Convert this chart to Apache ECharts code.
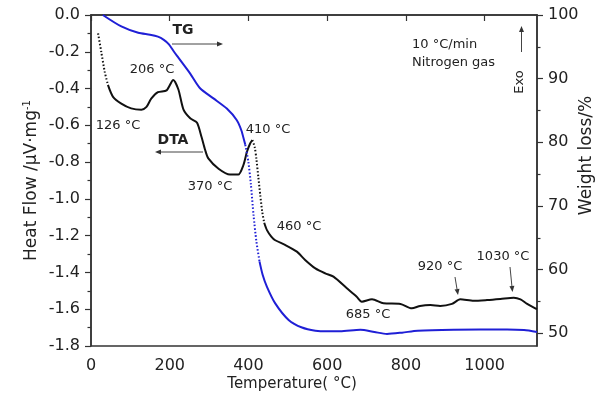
<!DOCTYPE html>
<html>
<head>
<meta charset="utf-8">
<script src="https://cdn.jsdelivr.net/npm/echarts@6/dist/echarts.min.js"></script>
<style>
  html, body { margin: 0; padding: 0; background: #fff; }
  #chart { width: 602px; height: 398px; }
</style>
</head>
<body>
<div id="chart"></div>
<script>
// DTA heat flow (left axis), [temperature °C, µV/mg]
const dtaData = [
  [18, -0.10], [26, -0.20], [35, -0.31], [43, -0.38], [56, -0.445], [77, -0.482],
  [102, -0.508], [128, -0.515], [141, -0.50], [153, -0.455], [170, -0.42],
  [192, -0.41], [209, -0.353], [222, -0.405], [235, -0.515], [252, -0.562],
  [269, -0.585], [281, -0.665], [290, -0.734], [298, -0.78], [324, -0.836],
  [353, -0.868], [374, -0.868], [387, -0.817], [396, -0.745], [404, -0.70],
  [410, -0.68], [416, -0.72], [420, -0.78], [425, -0.88], [430, -0.98],
  [435, -1.07], [440, -1.13], [447, -1.17], [458, -1.205], [468, -1.225],
  [493, -1.25], [523, -1.287], [544, -1.332], [570, -1.378], [595, -1.405],
  [616, -1.423], [650, -1.486], [675, -1.532], [688, -1.559], [714, -1.546],
  [743, -1.568], [786, -1.571], [815, -1.595], [836, -1.582], [862, -1.577],
  [887, -1.582], [917, -1.571], [938, -1.546], [972, -1.554], [1006, -1.55],
  [1040, -1.544], [1074, -1.537], [1091, -1.546], [1108, -1.571], [1133, -1.60]
];

// TG weight (right axis), [temperature °C, %]
const tgData = [
  [30, 100], [77, 98.2], [120, 97.2], [150, 96.9], [170, 96.6], [185, 96.1],
  [198, 95.4], [210, 94.3], [222, 93.3], [252, 90.8], [277, 88.5], [311, 86.9],
  [345, 85.3], [370, 83.5], [383, 81.7], [392, 79.6], [400, 76.8], [406, 73.5],
  [413, 68.5], [420, 64.5], [428, 61.3], [436, 59.2], [447, 57.3], [468, 54.7],
  [502, 52.1], [536, 50.9], [570, 50.4], [600, 50.3], [633, 50.3], [684, 50.55],
  [720, 50.2], [752, 49.9], [790, 50.1], [830, 50.4], [921, 50.55], [1057, 50.6],
  [1100, 50.5], [1133, 50.2]
];

// temperature ranges where the instrument sampled sparsely (drawn dotted)
const dtaDotted = [[18, 43], [410, 440]];
const tgDotted = [[392, 428]];

const tempTicks = [0, 200, 400, 600, 800, 1000];
const weightTicks = [50, 60, 70, 80, 90, 100];
const weightMinorTicks = [55, 65, 75, 85, 95];

const FONT = '"DejaVu Sans", sans-serif';
const AXIS_COLOR = "#333";
const TEXT_COLOR = "#222";
const DTA_COLOR = "#111";
const TG_COLOR = "#1f1fd6";

const chart = echarts.init(document.getElementById("chart"));

// split a curve into solid / dotted pieces (pieces share their end points)
function pieces(data, dotted) {
  const out = [];
  let start = data[0][0];
  dotted.forEach(([lo, hi]) => {
    if (lo > start) out.push({ dotted: false, data: data.filter((p) => p[0] >= start && p[0] <= lo) });
    out.push({ dotted: true, data: data.filter((p) => p[0] >= lo && p[0] <= hi) });
    start = hi;
  });
  out.push({ dotted: false, data: data.filter((p) => p[0] >= start) });
  return out;
}

function curveSeries(name, data, dotted, yAxisIndex, color) {
  return pieces(data, dotted).map((piece) => ({
    name,
    type: "line",
    yAxisIndex,
    data: piece.data,
    smooth: 0.25,
    showSymbol: false,
    lineStyle: {
      color,
      width: 2,
      type: piece.dotted ? [1.5, 2] : "solid",
    },
  }));
}

// small arrow = line + triangle head at (x2, y2)
function arrow(x1, y1, x2, y2) {
  const a = Math.atan2(y2 - y1, x2 - x1);
  const len = 6, w = 2.5;
  const bx = x2 - len * Math.cos(a), by = y2 - len * Math.sin(a);
  return [
    { type: "line", shape: { x1, y1, x2: bx, y2: by }, style: { stroke: "#444", lineWidth: 1 } },
    {
      type: "polygon",
      shape: {
        points: [
          [x2, y2],
          [bx + w * Math.sin(a), by - w * Math.cos(a)],
          [bx - w * Math.sin(a), by + w * Math.cos(a)],
        ],
      },
      style: { fill: "#333" },
    },
  ];
}

function label(text, x, y, opts) {
  return {
    type: "text",
    x, y,
    rotation: (opts && opts.rotation) || 0,
    style: {
      text,
      font: (opts && opts.font) || `13px ${FONT}`,
      fill: TEXT_COLOR,
      align: (opts && opts.align) || "center",
      verticalAlign: "middle",
    },
  };
}

const graphics = [
  label("TG", 183, 30, { font: `bold 14px ${FONT}` }),
  label("DTA", 173, 140, { font: `bold 14px ${FONT}` }),
  label("206 °C", 152, 70),
  label("126 °C", 118, 126),
  label("370 °C", 210, 187),
  label("410 °C", 268, 130),
  label("460 °C", 299, 227),
  label("685 °C", 368, 315),
  label("920 °C", 440, 267),
  label("1030 °C", 503, 257),
  label("10 °C/min", 412, 45, { align: "left" }),
  label("Nitrogen gas", 412, 63, { align: "left" }),
  label("Exo", 520, 82, { rotation: Math.PI / 2 }),
  ...arrow(172, 44, 223, 44),
  ...arrow(203, 152, 155, 152),
  ...arrow(455, 277, 458, 295),
  ...arrow(510, 267, 512.5, 292),
  ...arrow(521.5, 52, 521.5, 26),
];

const axisLine = { show: true, lineStyle: { color: AXIS_COLOR, width: 1.5 } };
const tickStyle = { color: AXIS_COLOR, width: 1.2 };

const option = {
  animation: false,
  backgroundColor: "#fff",
  grid: {
    left: 91,
    right: 65,
    top: 15,
    bottom: 52,
    outerBoundsMode: "none",
    show: true,
    borderColor: AXIS_COLOR,
    borderWidth: 1.5,
  },
  xAxis: {
    type: "value",
    min: 0,
    max: 1133,
    axisLine,
    axisTick: { length: 6, lineStyle: tickStyle, customValues: tempTicks },
    axisLabel: {
      customValues: tempTicks,
      margin: 12,
      color: TEXT_COLOR,
      fontFamily: FONT,
      fontSize: 16,
      formatter: (v) => String(v),
    },
    splitLine: { show: false },
    name: "Temperature( °C)",
    nameLocation: "middle",
    nameGap: 31,
    nameMoveOverlap: false,
    nameTextStyle: { color: TEXT_COLOR, fontFamily: FONT, fontSize: 15, padding: [0, 44, 0, 0] },
  },
  yAxis: [
    {
      type: "value",
      position: "left",
      min: -1.8,
      max: 0,
      interval: 0.2,
      axisLine,
      axisTick: { length: 6, lineStyle: tickStyle },
      minorTick: { show: true, splitNumber: 2, length: 3.5, lineStyle: tickStyle },
      axisLabel: {
        margin: 11,
        color: TEXT_COLOR,
        fontFamily: FONT,
        fontSize: 16,
        formatter: (v) => v.toFixed(1),
      },
      splitLine: { show: false },
      name: "Heat Flow /\u03bcV\u00b7mg{sup|-1}",
      nameLocation: "middle",
      nameGap: 50,
      nameMoveOverlap: false,
      nameTextStyle: {
        color: TEXT_COLOR,
        fontFamily: FONT,
        fontSize: 17,
        rich: {
          sup: { fontFamily: FONT, fontSize: 10, color: TEXT_COLOR, padding: [0, 0, 9, 0] },
        },
      },
    },
    {
      type: "value",
      position: "right",
      min: 48,
      max: 100,
      axisLine,
      axisTick: { length: 6, lineStyle: tickStyle, customValues: weightTicks },
      axisLabel: {
        customValues: weightTicks,
        margin: 11,
        color: TEXT_COLOR,
        fontFamily: FONT,
        fontSize: 16,
      },
      splitLine: { show: false },
      name: "Weight loss/%",
      nameLocation: "middle",
      nameGap: 41,
      nameMoveOverlap: false,
      nameTextStyle: { color: TEXT_COLOR, fontFamily: FONT, fontSize: 17, padding: [0, 0, 0, 50] },
    },
    {
      // minor ticks for the weight axis
      type: "value",
      position: "right",
      min: 48,
      max: 100,
      axisLine: { show: false },
      axisTick: { length: 3.5, lineStyle: tickStyle, customValues: weightMinorTicks },
      axisLabel: { show: false },
      splitLine: { show: false },
    },
  ],
  series: [
    ...curveSeries("DTA", dtaData, dtaDotted, 0, DTA_COLOR),
    ...curveSeries("TG", tgData, tgDotted, 1, TG_COLOR),
  ],
  graphic: graphics,
};

chart.setOption(option);
</script>
</body>
</html>
